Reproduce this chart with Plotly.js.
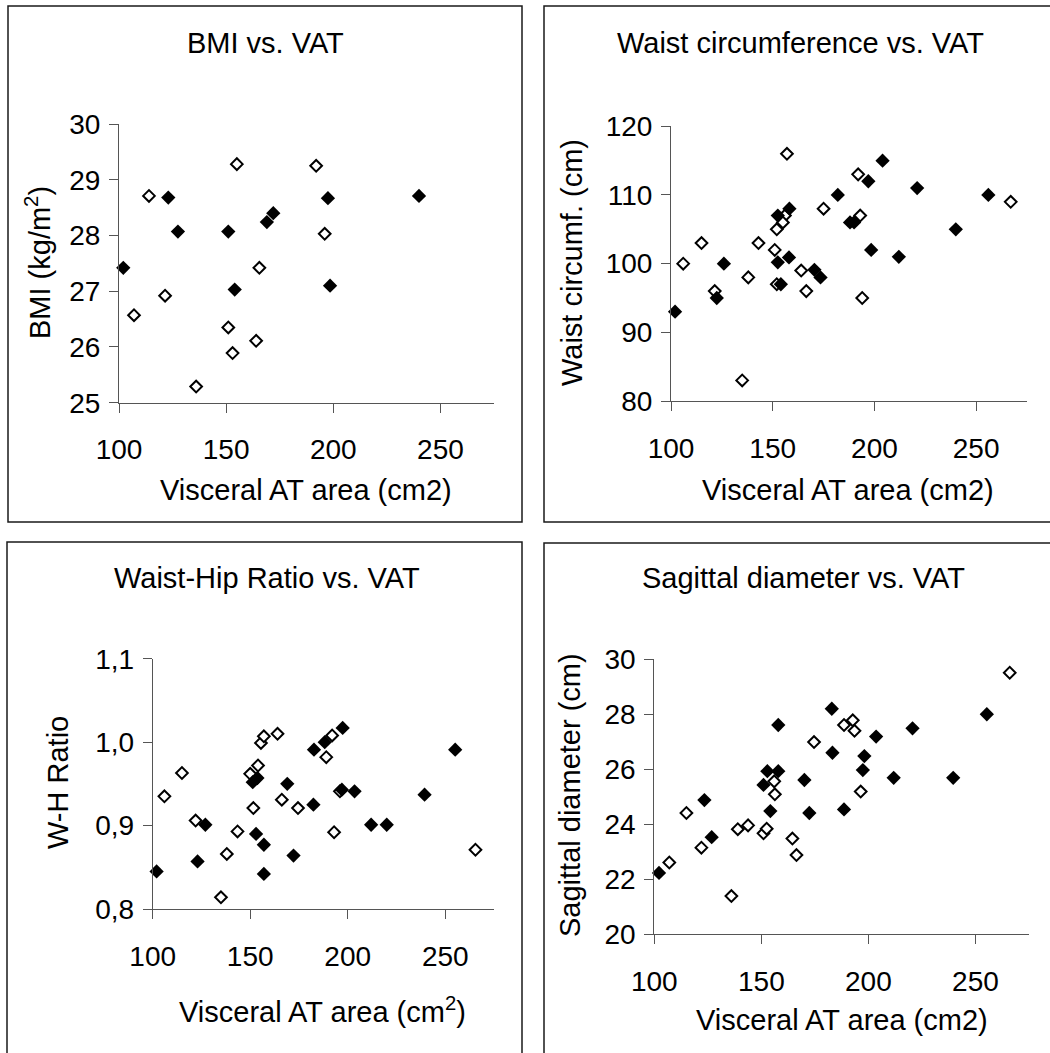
<!DOCTYPE html>
<html>
<head>
<meta charset="utf-8">
<script src="https://cdn.plot.ly/plotly-3.0.1.min.js"></script>
<style>
html,body{margin:0;padding:0;background:#fff;}
#chart{width:1050px;height:1053px;}
</style>
</head>
<body>
<div id="chart"></div>
<script>
// ---------- DATA ----------
// Panel 1: BMI vs. VAT
var bmiOpenVat   = [114, 155, 192, 196, 165.5, 121.5, 107, 151, 164, 153, 136];
var bmiOpenVal   = [28.71, 29.28, 29.25, 28.03, 27.42, 26.92, 26.57, 26.35, 26.11, 25.89, 25.29];
var bmiFilledVat = [102, 123, 127.5, 151, 154, 169, 172, 197.5, 198.5, 240];
var bmiFilledVal = [27.42, 28.68, 28.07, 28.07, 27.03, 28.24, 28.40, 28.67, 27.10, 28.71];

// Panel 2: Waist circumference vs. VAT
var waistOpenVat   = [157, 192, 175, 193, 267, 156, 155, 152, 115, 143, 151, 106, 138, 152, 164, 166.5, 121.5, 194, 135];
var waistOpenVal   = [116, 113, 108, 107, 109, 107, 106, 105, 103, 103, 102, 100, 98, 97, 99, 96, 96, 95, 83];
var waistFilledVat = [102, 122.5, 126, 152.5, 152.5, 154, 158.2, 158, 170.5, 173.5, 182, 188, 190, 197, 198.4, 204, 212, 221, 240, 256];
var waistFilledVal = [93, 95, 100, 107, 100.2, 97, 108, 100.9, 99.1, 98, 110, 106, 106, 112, 102, 115, 101, 111, 105, 110];

// Panel 3: Waist-Hip Ratio vs. VAT
var whrOpenVat   = [106, 115, 122, 135, 138, 143.5, 150, 151.6, 154, 155.5, 157, 164, 166.2, 174.5, 189, 192, 193, 196, 265.5];
var whrOpenVal   = [0.935, 0.963, 0.906, 0.814, 0.866, 0.893, 0.962, 0.921, 0.972, 0.999, 1.007, 1.010, 0.931, 0.921, 0.982, 1.008, 0.892, 0.941, 0.871];
var whrFilledVat = [102, 123, 127, 151.3, 153.7, 153, 157, 157, 169, 172.2, 182.4, 182.7, 188.2, 197.4, 197, 203.5, 212, 220, 239.4, 255.1];
var whrFilledVal = [0.845, 0.857, 0.901, 0.952, 0.957, 0.890, 0.877, 0.842, 0.950, 0.864, 0.925, 0.991, 1.000, 1.017, 0.943, 0.941, 0.901, 0.901, 0.937, 0.991];

// Panel 4: Sagittal diameter vs. VAT
var sagOpenVat   = [107, 115, 122, 136, 139, 143.8, 151, 152.5, 156, 156.3, 164.5, 166.4, 174.6, 188.6, 192.7, 193.5, 196.4, 266];
var sagOpenVal   = [22.6, 24.4, 23.14, 21.38, 23.81, 23.95, 23.66, 23.83, 25.55, 25.08, 23.47, 22.87, 26.98, 27.6, 27.77, 27.39, 25.18, 29.5];
var sagFilledVat = [102.2, 123.4, 126.8, 151, 152.8, 157.9, 154.2, 157.9, 170.1, 172.4, 182.9, 183.2, 188.6, 197.4, 198.1, 203.6, 211.8, 220.6, 239.6, 255.3];
var sagFilledVal = [22.22, 24.87, 23.52, 25.42, 25.92, 25.92, 24.47, 27.6, 25.6, 24.40, 28.19, 26.59, 24.53, 25.96, 26.47, 27.18, 25.68, 27.48, 25.68, 27.99];

var panelTitles = ["BMI vs. VAT", "Waist circumference vs. VAT", "Waist-Hip Ratio vs. VAT", "Sagittal diameter vs. VAT"];
var yTitles = ["BMI (kg/m<sup>2</sup>)", "Waist circumf. (cm)", "W-H Ratio", "Sagittal diameter (cm)"];
var xTitles = ["Visceral AT area (cm2)", "Visceral AT area (cm2)", "Visceral AT area (cm<sup>2</sup>)", "Visceral AT area (cm2)"];
var xTickVals = [100, 150, 200, 250];

// ---------- LAYOUT HELPERS ----------
var W = 1050, H = 1053;
function px(x){ return x / W; }
function py(y){ return 1 - y / H; }
var FONT = "Liberation Sans, Arial, sans-serif";

var openMarker = {symbol: "diamond", size: 9, color: "#ffffff", line: {color: "#000000", width: 2}};
var filledMarker = {symbol: "diamond", size: 11, color: "#000000", line: {width: 0}};

function pair(xs, ys, xa, ya, marker, name){
  return {x: xs, y: ys, xaxis: xa, yaxis: ya, type: "scatter", mode: "markers",
          marker: marker, cliponaxis: false, showlegend: false, name: name, hoverinfo: "x+y"};
}

var data = [
  pair(bmiOpenVat, bmiOpenVal, "x", "y", openMarker, "open"),
  pair(bmiFilledVat, bmiFilledVal, "x", "y", filledMarker, "filled"),
  pair(waistOpenVat, waistOpenVal, "x2", "y2", openMarker, "open"),
  pair(waistFilledVat, waistFilledVal, "x2", "y2", filledMarker, "filled"),
  pair(whrOpenVat, whrOpenVal, "x3", "y3", openMarker, "open"),
  pair(whrFilledVat, whrFilledVal, "x3", "y3", filledMarker, "filled"),
  pair(sagOpenVat, sagOpenVal, "x4", "y4", openMarker, "open"),
  pair(sagFilledVat, sagFilledVal, "x4", "y4", filledMarker, "filled")
];

function xAxis(d0, d1, anchor){
  return {domain: [px(d0), px(d1)], range: [100, 275], anchor: anchor,
    tickvals: xTickVals, ticks: "outside", ticklen: 9, tickwidth: 1, tickcolor: "#555",
    showline: true, linecolor: "#555", linewidth: 1, showgrid: false, zeroline: false,
    tickfont: {family: FONT, size: 28, color: "#000"}, ticklabelstandoff: 13, fixedrange: true};
}
function yAxis(top, bottom, anchor, rng, dtick, fmt){
  var a = {domain: [py(bottom), py(top)], range: rng, anchor: anchor, dtick: dtick, tick0: rng[0],
    ticks: "outside", ticklen: 9, tickwidth: 1, tickcolor: "#555",
    showline: true, linecolor: "#555", linewidth: 1, showgrid: false, zeroline: false,
    tickfont: {family: FONT, size: 28, color: "#000"}, ticklabelstandoff: 3, fixedrange: true};
  if (fmt) a.tickformat = fmt;
  return a;
}

var frames = [
  [8, 6, 522, 522],
  [544, 6, 1060, 522],
  [7, 542, 522, 1065],
  [544, 543, 1060, 1065]
];
var shapes = frames.map(function(f){
  return {type: "rect", xref: "paper", yref: "paper", x0: px(f[0]), x1: px(f[2]), y0: py(f[3]), y1: py(f[1]),
          line: {color: "#1a1a1a", width: 1.5}, fillcolor: "rgba(0,0,0,0)", layer: "below"};
});

var titlePos = [[265, 43], [800, 43], [267, 578], [803, 578]];
var xTitlePos = [[306, 490], [848, 490], [322, 1010], [842, 1020]];
var yTitlePos = [[38, 263], [572, 263], [58, 783], [570, 795]];

var annotations = [];
for (var i = 0; i < 4; i++){
  annotations.push({text: panelTitles[i], xref: "paper", yref: "paper", x: px(titlePos[i][0]), y: py(titlePos[i][1]),
    xanchor: "center", yanchor: "middle", showarrow: false, font: {family: FONT, size: 29, color: "#000"}});
  annotations.push({text: xTitles[i], xref: "paper", yref: "paper", x: px(xTitlePos[i][0]), y: py(xTitlePos[i][1]),
    xanchor: "center", yanchor: "middle", showarrow: false, font: {family: FONT, size: 29, color: "#000"}});
  annotations.push({text: yTitles[i], xref: "paper", yref: "paper", x: px(yTitlePos[i][0]), y: py(yTitlePos[i][1]),
    xanchor: "center", yanchor: "middle", textangle: -90, showarrow: false, font: {family: FONT, size: 29, color: "#000"}});
}

var layout = {
  width: W, height: H,
  margin: {l: 0, r: 0, t: 0, b: 0},
  paper_bgcolor: "#ffffff", plot_bgcolor: "#ffffff",
  separators: ", ",
  showlegend: false,
  xaxis: xAxis(119, 494, "y"),
  yaxis: yAxis(124, 402.7, "x", [25, 30], 1),
  xaxis2: xAxis(671, 1027, "y2"),
  yaxis2: yAxis(126.3, 401, "x2", [80, 120], 10),
  xaxis3: xAxis(152.7, 494, "y3"),
  yaxis3: yAxis(658.7, 909, "x3", [0.8, 1.1], 0.1, ".1f"),
  xaxis4: xAxis(654.3, 1029, "y4"),
  yaxis4: yAxis(659, 934, "x4", [20, 30], 2),
  shapes: shapes,
  annotations: annotations
};

Plotly.newPlot("chart", data, layout, {displayModeBar: false, staticPlot: true});
</script>
</body>
</html>
